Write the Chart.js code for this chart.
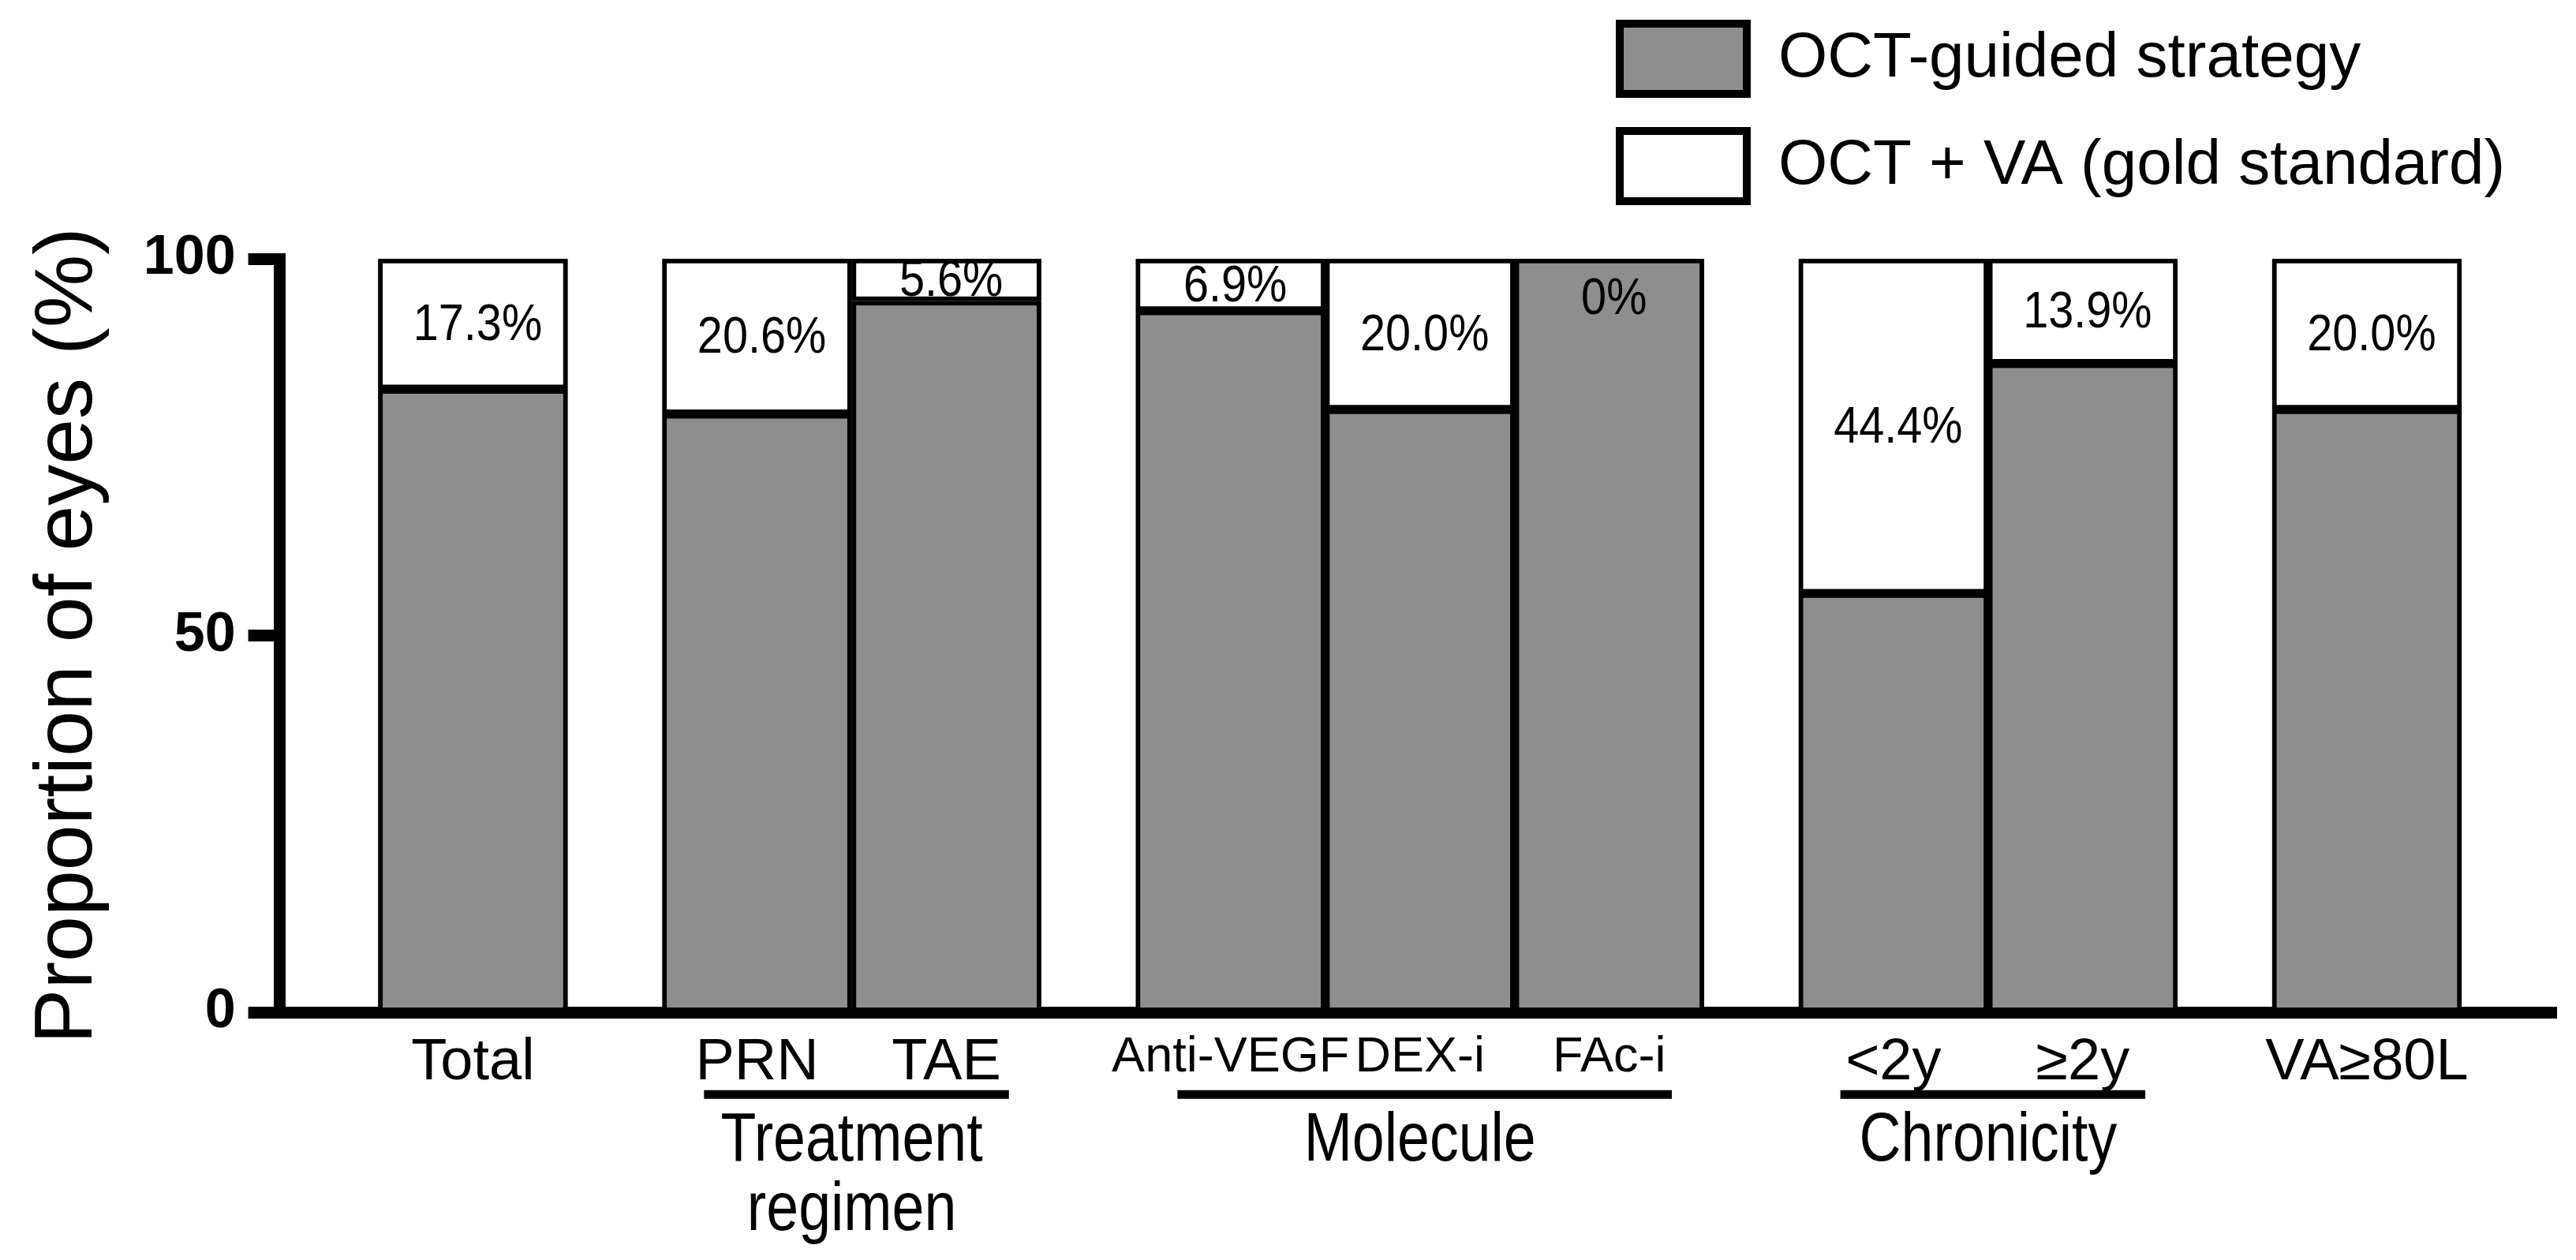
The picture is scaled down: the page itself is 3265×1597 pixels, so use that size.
<!DOCTYPE html>
<html>
<head>
<meta charset="utf-8">
<script src="https://cdn.jsdelivr.net/npm/chart.js@4.4.1/dist/chart.umd.min.js"></script>
<style>
  html, body { margin: 0; padding: 0; background: #ffffff; }
  canvas { display: block; }
</style>
</head>
<body>
<canvas id="chart" width="3265" height="1597"></canvas>
<script>
// ---------------- data ----------------
const categories = ['Total', 'PRN', 'TAE', 'Anti-VEGF', 'DEX-i', 'FAc-i', '<2y', '≥2y', 'VA≥80L'];
const groupOf = [0, 1, 1, 2, 2, 2, 3, 3, 4];
const groupNames = [null, ['Treatment', 'regimen'], ['Molecule'], ['Chronicity'], null];
const octGuidedPct = [82.7, 79.4, 94.4, 93.1, 80.0, 100, 55.6, 86.1, 80.0];
const goldStandardPct = [17.3, 20.6, 5.6, 6.9, 20.0, 0, 44.4, 13.9, 20.0];
const pctLabels = ['17.3%', '20.6%', '5.6%', '6.9%', '20.0%', '0%', '44.4%', '13.9%', '20.0%'];
const seriesNames = ['OCT-guided strategy', 'OCT + VA (gold standard)'];
const yTicks = [0, 50, 100];

// ---------------- styling ----------------
const SANS = "'Liberation Sans', Arial, sans-serif";
const GRAY = '#8e8e8e';
const GROUP_GAP = 0.5;           // extra slot fraction between groups
const LEGEND_WIDTH = 1259;
const LEGEND_SHIFT = 63;

// bar positions on the index axis derived from group membership
const xPos = categories.map((c, i) => i + GROUP_GAP * groupOf[i]);

const legendBlock = {
  id: 'legendBlock',
  afterInit(chart) {
    const lg = chart.legend;
    const proto = Object.getPrototypeOf(lg);
    lg._fitRows = function (...args) {
      const full = this.maxWidth;
      this.maxWidth = LEGEND_WIDTH;
      const h = proto._fitRows.apply(this, args);
      this.maxWidth = full;
      return h;
    };
  },
  afterLayout(chart) {
    const lg = chart.legend;
    lg.left = chart.width - LEGEND_WIDTH;
    lg.right = chart.width;
    lg.width = LEGEND_WIDTH;
    lg.top -= LEGEND_SHIFT;
    lg.bottom -= LEGEND_SHIFT;
  }
};

function condensedText(ctx, text, x, y, size, sx) {
  ctx.save();
  ctx.translate(x, y);
  ctx.scale(sx, 1);
  ctx.font = size + 'px ' + SANS;
  ctx.fillText(text, 0, 0);
  ctx.restore();
}

const valueLabels = {
  id: 'valueLabels',
  afterDatasetsDraw(chart) {
    const ctx = chart.ctx;
    const meta = chart.getDatasetMeta(1);
    ctx.save();
    ctx.fillStyle = '#000';
    ctx.textAlign = 'center';
    ctx.textBaseline = 'middle';
    meta.data.forEach((el, i) => {
      const h = el.base - el.y;
      const y = h < 30 ? el.y + 52 : (el.y + el.base) / 2 + 3;
      condensedText(ctx, pctLabels[i], el.x + 6, y, 64, 0.9);
    });
    ctx.restore();
  }
};

const groupLabels = {
  id: 'groupLabels',
  afterDraw(chart) {
    const ctx = chart.ctx;
    const xs = chart.scales.x;
    const base = chart.chartArea.bottom;
    ctx.save();
    ctx.fillStyle = '#000';
    ctx.strokeStyle = '#000';
    ctx.lineWidth = 11;
    ctx.textAlign = 'center';
    ctx.textBaseline = 'middle';
    groupNames.forEach((name, g) => {
      if (!name) return;
      const idx = categories.map((c, i) => i).filter(i => groupOf[i] === g);
      const first = xPos[idx[0]], last = xPos[idx[idx.length - 1]];
      const xl = xs.getPixelForValue(first - 0.28);
      const xr = xs.getPixelForValue(last + 0.33);
      const yl = base + 104;
      ctx.beginPath();
      ctx.moveTo(xl, yl);
      ctx.lineTo(xr, yl);
      ctx.stroke();
      const xc = xs.getPixelForValue((first + last) / 2);
      name.forEach((line, k) => condensedText(ctx, line, xc, base + 164 + k * 88, 88, 0.835));
    });
    ctx.restore();
  }
};

const chart = new Chart(document.getElementById('chart'), {
  type: 'bar',
  data: {
    datasets: [
      {
        label: seriesNames[0],
        data: xPos.map((x, i) => ({ x: x, y: octGuidedPct[i] })),
        backgroundColor: GRAY,
        borderColor: '#000',
        borderWidth: 6,
        borderSkipped: false,
        stack: 's',
        barPercentage: 1,
        categoryPercentage: 1
      },
      {
        label: seriesNames[1],
        data: xPos.map((x, i) => ({ x: x, y: goldStandardPct[i] })),
        backgroundColor: '#ffffff',
        borderColor: '#000',
        borderWidth: 6,
        borderSkipped: false,
        stack: 's',
        barPercentage: 1,
        categoryPercentage: 1
      }
    ]
  },
  options: {
    responsive: false,
    animation: false,
    devicePixelRatio: 1,
    layout: { padding: { left: 0, right: 25, top: 46, bottom: 185 } },
    plugins: {
      tooltip: { enabled: false },
      legend: {
        position: 'top',
        align: 'start',
        labels: {
          boxWidth: 161,
          boxHeight: 89,
          padding: 47,
          color: '#000',
          font: { family: SANS, size: 80 },
          generateLabels: (ch) => Chart.defaults.plugins.legend.labels.generateLabels(ch)
            .map(l => Object.assign(l, { lineWidth: 10, strokeStyle: '#000' }))
        }
      }
    },
    scales: {
      x: {
        type: 'linear',
        min: -1.02,
        max: 11.0,
        offset: false,
        grid: { display: false, drawTicks: false },
        border: { display: true, color: '#000', width: 15 },
        afterBuildTicks: (s) => { s.ticks = xPos.map(v => ({ value: v })); },
        ticks: {
          autoSkip: false,
          maxRotation: 0,
          padding: 20,
          color: '#000',
          font: (ctx) => ({ family: SANS, size: groupOf[ctx.index] === 2 ? 63 : 74 }),
          callback: (v, i) => categories[i]
        }
      },
      y: {
        stacked: true,
        min: 0,
        max: 100,
        afterBuildTicks: (s) => { s.ticks = yTicks.map(v => ({ value: v })); },
        grid: { display: true, drawOnChartArea: false, drawTicks: true, tickLength: 40, tickWidth: 15, tickColor: '#000' },
        border: { display: true, color: '#000', width: 15 },
        ticks: { padding: 16, color: '#000', font: { family: SANS, size: 70, weight: 'bold' } },
        title: {
          display: true,
          text: 'Proportion of eyes (%)',
          color: '#000',
          font: { family: SANS, size: 104 },
          padding: { top: 25, bottom: 16 }
        }
      }
    }
  },
  plugins: [legendBlock, valueLabels, groupLabels]
});
</script>
</body>
</html>
